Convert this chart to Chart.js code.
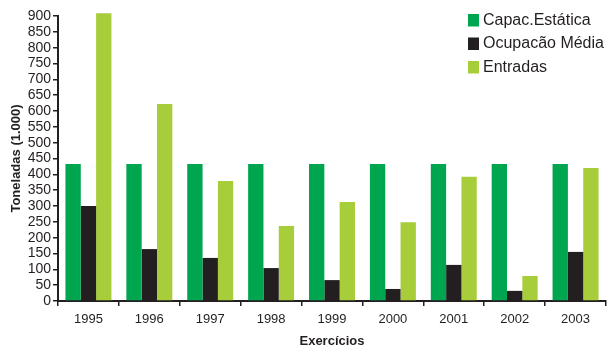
<!DOCTYPE html>
<html>
<head>
<meta charset="utf-8">
<script src="https://cdn.jsdelivr.net/npm/chart.js@4/dist/chart.umd.min.js"></script>
<style>
  html, body { margin: 0; padding: 0; background: #ffffff; }
  #wrap { width: 607px; height: 346px; }
</style>
</head>
<body>
<div id="wrap"><canvas id="c" width="607" height="346"></canvas></div>
<script>
// Armazenagem: capacidade, ocupação e entradas (toneladas x 1.000)
const exercicios = ['1995', '1996', '1997', '1998', '1999', '2000', '2001', '2002', '2003'];
const capacEstatica = [433, 433, 433, 433, 433, 433, 433, 433, 433];
const ocupacaoMedia = [300, 164, 136, 104, 66, 38, 114, 32, 155];
const entradas = [909, 622, 379, 237, 313, 249, 392, 79, 420];
const seriesNames = ['Capac.Estática', 'Ocupacão Média', 'Entradas'];
const seriesColors = ['#00a64f', '#231f20', '#a8cd3a'];

const ink = '#231f20';
const family = '"Liberation Sans", Arial, Helvetica, sans-serif';

// Legenda desenhada dentro da área do gráfico, canto superior direito
const cornerLegend = {
  id: 'cornerLegend',
  afterDraw(chart) {
    const ctx = chart.ctx;
    ctx.save();
    ctx.font = '16px ' + family;
    ctx.textBaseline = 'middle';
    ctx.textAlign = 'left';
    chart.data.datasets.forEach((ds, i) => {
      const cy = 20 + i * 23.5;
      ctx.fillStyle = ds.backgroundColor;
      ctx.fillRect(468, cy - 6, 11, 12.5);
      ctx.fillStyle = ink;
      ctx.fillText(ds.label, 483, cy + 0.5);
    });
    ctx.restore();
  }
};

const values = [capacEstatica, ocupacaoMedia, entradas];

new Chart(document.getElementById('c'), {
  type: 'bar',
  data: {
    labels: exercicios,
    datasets: values.map((v, i) => ({
      label: seriesNames[i],
      data: v,
      backgroundColor: seriesColors[i],
      borderWidth: 0,
      categoryPercentage: 0.755,
      barPercentage: 1.0,
      clip: false
    }))
  },
  options: {
    responsive: false,
    animation: false,
    devicePixelRatio: 1,
    layout: { padding: { top: 16, right: 1, left: 9, bottom: 0 } },
    plugins: {
      legend: { display: false },
      tooltip: { enabled: false }
    },
    scales: {
      x: {
        grid: {
          offset: true,
          drawOnChartArea: false,
          drawTicks: true,
          tickLength: 5,
          color: ink,
          lineWidth: 1.5
        },
        border: { display: true, color: ink, width: 2 },
        ticks: {
          color: ink,
          padding: 6,
          font: { family: family, size: 13 }
        },
        title: {
          display: true,
          text: 'Exercícios',
          color: ink,
          font: { family: family, size: 13, weight: 'bold', lineHeight: 0.7 },
          padding: { top: 0, bottom: 0 }
        },
        afterFit(scale) { scale.height = 45; }
      },
      y: {
        min: 0,
        max: 900,
        grid: {
          drawOnChartArea: false,
          drawTicks: true,
          tickLength: 5,
          color: ink,
          lineWidth: 1.5
        },
        border: { display: true, color: ink, width: 2 },
        ticks: {
          stepSize: 50,
          autoSkip: false,
          color: ink,
          padding: 2,
          font: { family: family, size: 14 }
        },
        title: {
          display: true,
          text: 'Toneladas (1.000)',
          color: ink,
          font: { family: family, size: 13, weight: 'bold' },
          padding: { top: 0, bottom: 0 }
        },
        afterFit(scale) { scale.width = 49; }
      }
    }
  },
  plugins: [cornerLegend]
});
</script>
</body>
</html>
